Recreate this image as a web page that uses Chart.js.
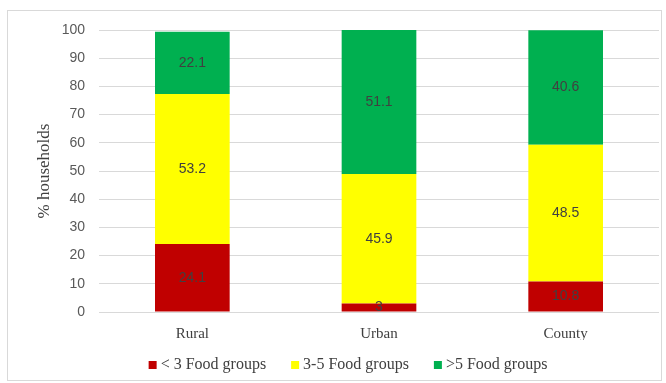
<!DOCTYPE html>
<html>
<head>
<meta charset="utf-8">
<script src="https://cdn.jsdelivr.net/npm/chart.js@4/dist/chart.umd.min.js"></script>
<style>
  html, body { margin: 0; padding: 0; background: #ffffff; }
  #wrap { position: relative; width: 666px; height: 383px; }
</style>
</head>
<body>
<div id="wrap"><canvas id="c" width="666" height="383"></canvas></div>
<script>
const categories = ["Rural", "Urban", "County"];
const seriesNames = ["< 3 Food groups", "3-5 Food groups", ">5 Food groups"];
const lessThan3 = [24.1, 3, 10.8];
const from3to5 = [53.2, 45.9, 48.5];
const moreThan5 = [22.1, 51.1, 40.6];
const seriesColors = ["#C00000", "#FFFF00", "#00B050"];
const yTicks = [0, 10, 20, 30, 40, 50, 60, 70, 80, 90, 100];

const borderPlugin = {
  id: 'frame',
  beforeDraw(chart) {
    const ctx = chart.ctx;
    ctx.save();
    ctx.fillStyle = '#ffffff';
    ctx.fillRect(0, 0, chart.width, chart.height);
    ctx.strokeStyle = '#d9d9d9';
    ctx.lineWidth = 1;
    ctx.strokeRect(7.5, 10.5, 654, 370);
    ctx.restore();
  }
};

const labelPlugin = {
  id: 'segLabels',
  afterDatasetsDraw(chart) {
    const ctx = chart.ctx;
    ctx.save();
    ctx.font = '14px "Liberation Sans", Arial, sans-serif';
    ctx.fillStyle = '#404040';
    ctx.textAlign = 'center';
    ctx.textBaseline = 'middle';
    chart.data.datasets.forEach((ds, di) => {
      const meta = chart.getDatasetMeta(di);
      meta.data.forEach((bar, i) => {
        const v = ds.data[i];
        const p = bar.getProps(['x', 'y', 'base'], true);
        ctx.fillText(String(v), p.x, (p.y + p.base) / 2);
      });
    });
    ctx.restore();
  }
};

const legendPlugin = {
  id: 'customLegend',
  afterDraw(chart) {
    const ctx = chart.ctx;
    ctx.save();
    ctx.font = '16px "Liberation Serif", "Times New Roman", serif';
    ctx.textBaseline = 'middle';
    ctx.textAlign = 'left';
    const y = 365;
    const box = 8, gapText = 4, gapItem = 25;
    const items = chart.data.datasets.map(ds => ({
      label: ds.label, color: ds.backgroundColor, w: ctx.measureText(ds.label).width
    }));
    const total = items.reduce((s, it) => s + box + gapText + it.w, 0) + gapItem * (items.length - 1);
    let x = 348 - total / 2;
    items.forEach(it => {
      ctx.fillStyle = it.color;
      ctx.fillRect(x, y - box / 2, box, box);
      ctx.fillStyle = '#404040';
      ctx.fillText(it.label, x + box + gapText, y);
      x += box + gapText + it.w + gapItem;
    });
    ctx.restore();
  }
};

const datasets = [lessThan3, from3to5, moreThan5].map((d, i) => ({
  label: seriesNames[i],
  data: d,
  backgroundColor: seriesColors[i],
  borderWidth: 0,
  barPercentage: 0.4,
  categoryPercentage: 1.0
}));

new Chart(document.getElementById('c'), {
  type: 'bar',
  data: { labels: categories, datasets },
  plugins: [borderPlugin, labelPlugin, legendPlugin],
  options: {
    responsive: false,
    animation: false,
    layout: { padding: { left: 34, right: 7, top: 30, bottom: 43 } },
    plugins: {
      tooltip: { enabled: false },
      legend: { display: false }
    },
    scales: {
      x: {
        stacked: true,
        grid: { display: false },
        border: { display: false },
        ticks: {
          color: '#404040',
          padding: 5,
          font: { family: '"Liberation Serif", "Times New Roman", serif', size: 15 }
        },
        afterFit(scale) { scale.height = 28; }
      },
      y: {
        stacked: true,
        min: 0,
        max: 100,
        afterBuildTicks(scale) { scale.ticks = yTicks.map(v => ({ value: v })); },
        grid: { color: '#d9d9d9', lineWidth: 1, drawTicks: false },
        border: { display: false },
        ticks: {
          color: '#595959',
          padding: 14,
          font: { family: '"Liberation Sans", Arial, sans-serif', size: 14 }
        },
        title: {
          display: true,
          text: '% households',
          color: '#404040',
          padding: { top: 0, bottom: 0 },
          font: { family: '"Liberation Serif", "Times New Roman", serif', size: 17 }
        },
        afterFit(scale) { scale.width = 65; }
      }
    }
  }
});
</script>
</body>
</html>
